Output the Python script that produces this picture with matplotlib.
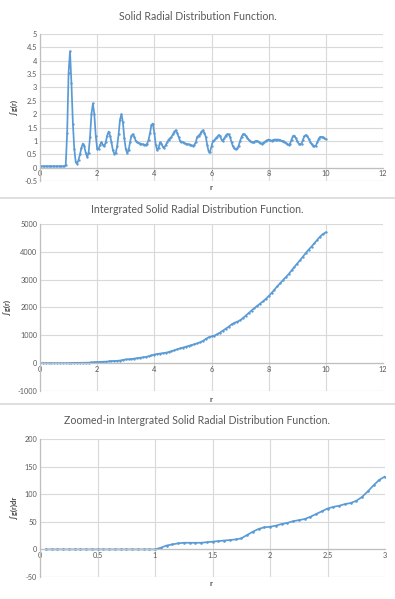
import matplotlib
matplotlib.use('Agg')
import matplotlib.pyplot as plt
import numpy as np

plt.rcParams['font.family'] = ['Lato', 'DejaVu Sans']

# g(r), r = 0 .. 10 co 0.05
r_g = np.round(np.arange(0, 10.001, 0.05), 2)
g_r = [
    0.05, 0.05, 0.05, 0.05, 0.05, 0.05, 0.05, 0.05, 0.05, 0.05,
    0.05, 0.05, 0.05, 0.05, 0.05, 0.05, 0.05, 0.05, 0.1, 1.3,
    3.55, 4.35, 3.15, 1.65, 0.7, 0.2, 0.15, 0.3, 0.5, 0.75,
    0.9, 0.8, 0.55, 0.4, 0.55, 1.15, 2.0, 2.4, 2.0, 1.2,
    0.7, 0.7, 0.85, 0.95, 0.85, 0.8, 0.95, 1.2, 1.35, 1.2,
    0.95, 0.65, 0.52, 0.55, 0.8, 1.25, 1.8, 2.0, 1.7, 1.1,
    0.7, 0.55, 0.65, 0.95, 1.2, 1.25, 1.15, 1.0, 0.95, 0.92,
    0.9, 0.88, 0.87, 0.85, 0.85, 0.9, 1.05, 1.3, 1.6, 1.65,
    1.3, 0.85, 0.65, 0.75, 0.95, 0.9, 0.78, 0.75, 0.85, 0.95,
    1.05, 1.1, 1.15, 1.25, 1.35, 1.4, 1.3, 1.15, 1.0, 0.97,
    0.95, 0.92, 0.9, 0.88, 0.87, 0.85, 0.83, 0.82, 0.85, 0.95,
    1.15, 1.2, 1.25, 1.35, 1.4, 1.3, 1.15, 0.85, 0.6, 0.6,
    0.8, 1.0, 1.02, 1.1, 1.15, 1.22, 1.18, 1.05, 1.0, 1.1,
    1.2, 1.25, 1.25, 1.15, 0.95, 0.8, 0.72, 0.68, 0.72, 0.82,
    1.0, 1.15, 1.25, 1.25, 1.2, 1.12, 1.05, 1.0, 0.95, 0.95,
    0.97, 1.0, 1.0, 0.97, 0.92, 0.9, 0.92, 0.95, 1.0, 1.03,
    1.05, 1.02, 1.0, 1.03, 1.05, 1.05, 1.05, 1.05, 1.03, 1.0,
    1.0, 0.97, 0.93, 0.88, 0.85, 0.9, 1.05, 1.18, 1.2, 1.1,
    0.98, 0.9, 0.87, 0.9, 1.05, 1.18, 1.22, 1.18, 1.08, 0.97,
    0.88, 0.82, 0.8, 0.82, 0.95, 1.08, 1.15, 1.15, 1.13, 1.1,
    1.07,
]

# calka, r = 0 .. 10 co 0.1
r_int = np.round(np.arange(0, 10.001, 0.1), 1)
int_g = [
    0, 0, 0, 0, 0, 0, 0, 0, 0, 0,
    0, 7, 11, 12, 12, 14, 16, 18, 26, 37,
    41, 46, 51, 55, 64, 74, 79, 84, 95, 116,
    132, 140, 150, 165, 180, 195, 210, 225, 250, 280,
    310, 330, 345, 360, 375, 400, 430, 460, 500, 530,
    560, 590, 620, 650, 680, 710, 750, 800, 870, 930,
    960, 990, 1040, 1100, 1170, 1240, 1310, 1390, 1450, 1490,
    1540, 1620, 1710, 1800, 1890, 1980, 2060, 2140, 2220, 2310,
    2410, 2520, 2640, 2760, 2870, 2980, 3090, 3200, 3330, 3460,
    3580, 3700, 3830, 3960, 4080, 4190, 4310, 4430, 4550, 4640,
    4700,
]

# zoom, r = 0.05 .. 3 co 0.05
r_zoom = np.round(np.arange(0.05, 3.001, 0.05), 2)
zoom_g = [
    0, 0, 0, 0, 0, 0, 0, 0, 0, 0,
    0, 0, 0, 0, 0, 0, 0, 0, 0, 0,
    3, 7, 9, 11, 12, 12, 12, 12, 13, 14,
    15, 16, 17, 18, 20, 26, 32, 37, 40, 41,
    43, 46, 48, 51, 53, 55, 59, 64, 69, 74,
    77, 79, 82, 84, 88, 95, 105, 116, 126, 132,
]

W, H = 395, 599
niebieski = '#5B9BD5'
szary_txt = '#595959'

fig = plt.figure(figsize=(W / 100, H / 100), dpi=100)
fig.patch.set_facecolor('white')


def osie(x0, y0, x1, y1):
    return fig.add_axes([x0 / W, 1 - y1 / H, (x1 - x0) / W, (y1 - y0) / H])


def styl(ax, tytul, ylab, xlim, ylim, xt, yt, ty, xly, xc):
    ax.set_xlim(*xlim)
    ax.set_ylim(*ylim)
    ax.set_xticks(xt)
    ax.set_yticks(yt)
    ax.set_xticklabels(['%g' % v for v in xt])
    ax.set_yticklabels(['%g' % v for v in yt])
    for s in ('top', 'right'):
        ax.spines[s].set_visible(False)
    # os x przechodzi przez zero, etykiety tuz pod nia
    ax.spines['bottom'].set_position(('data', 0))
    ax.spines['bottom'].set_color('#BFBFBF')
    ax.spines['left'].set_color('#BFBFBF')
    ax.spines['bottom'].set_linewidth(0.9)
    ax.spines['left'].set_linewidth(0.9)
    ax.grid(True, color='#D9D9D9', lw=0.8)
    ax.set_axisbelow(True)
    ax.axhline(ylim[0], color='#D9D9D9', lw=0.8, zorder=0)
    ax.tick_params(length=0, labelsize=5.3, colors=szary_txt, pad=2)
    fig.text(0.5, 1 - ty / H, tytul, ha='center', va='center', fontsize=7.6, color=szary_txt)
    ax.set_ylabel(ylab, fontsize=5.5, fontweight='bold', color='#404040', labelpad=4)
    fig.text(xc / W, 1 - xly / H, 'r', ha='center', va='center',
             fontsize=5.5, fontweight='bold', color='#404040')


ax1 = osie(40, 34, 383, 181)
ax1.plot(r_g, g_r, color=niebieski, lw=1.25, marker='o', ms=1.7, mew=0)
styl(ax1, 'Solid Radial Distribution Function.', '∫g(r)', (0, 12), (-0.5, 5),
     np.arange(0, 13, 2), np.arange(-0.5, 5.01, 0.5), 16, 187, 211)

ax2 = osie(40, 224, 383, 391)
ax2.plot(r_int, int_g, color=niebieski, lw=1.25, marker='o', ms=1.7, mew=0)
styl(ax2, 'Intergrated Solid Radial Distribution Function.', '∫g(r)', (0, 12), (-1000, 5000),
     np.arange(0, 13, 2), np.arange(-1000, 5001, 1000), 210, 399, 211)

ax3 = osie(40, 439, 385, 577)
ax3.plot(r_zoom, zoom_g, color=niebieski, lw=1.25, marker='o', ms=1.9, mew=0)
styl(ax3, 'Zoomed-in Intergrated Solid Radial Distribution Function.', '∫g(r)dr', (0, 3), (-50, 200),
     np.arange(0, 3.01, 0.5), np.arange(-50, 201, 50), 421, 584, 211)

# linie oddzielajace wykresy
for y in (198, 404):
    fig.add_artist(plt.Line2D([0, 1], [1 - y / H, 1 - y / H], color='#D9D9D9', lw=1.2))

fig.savefig('out.png', dpi=100)
